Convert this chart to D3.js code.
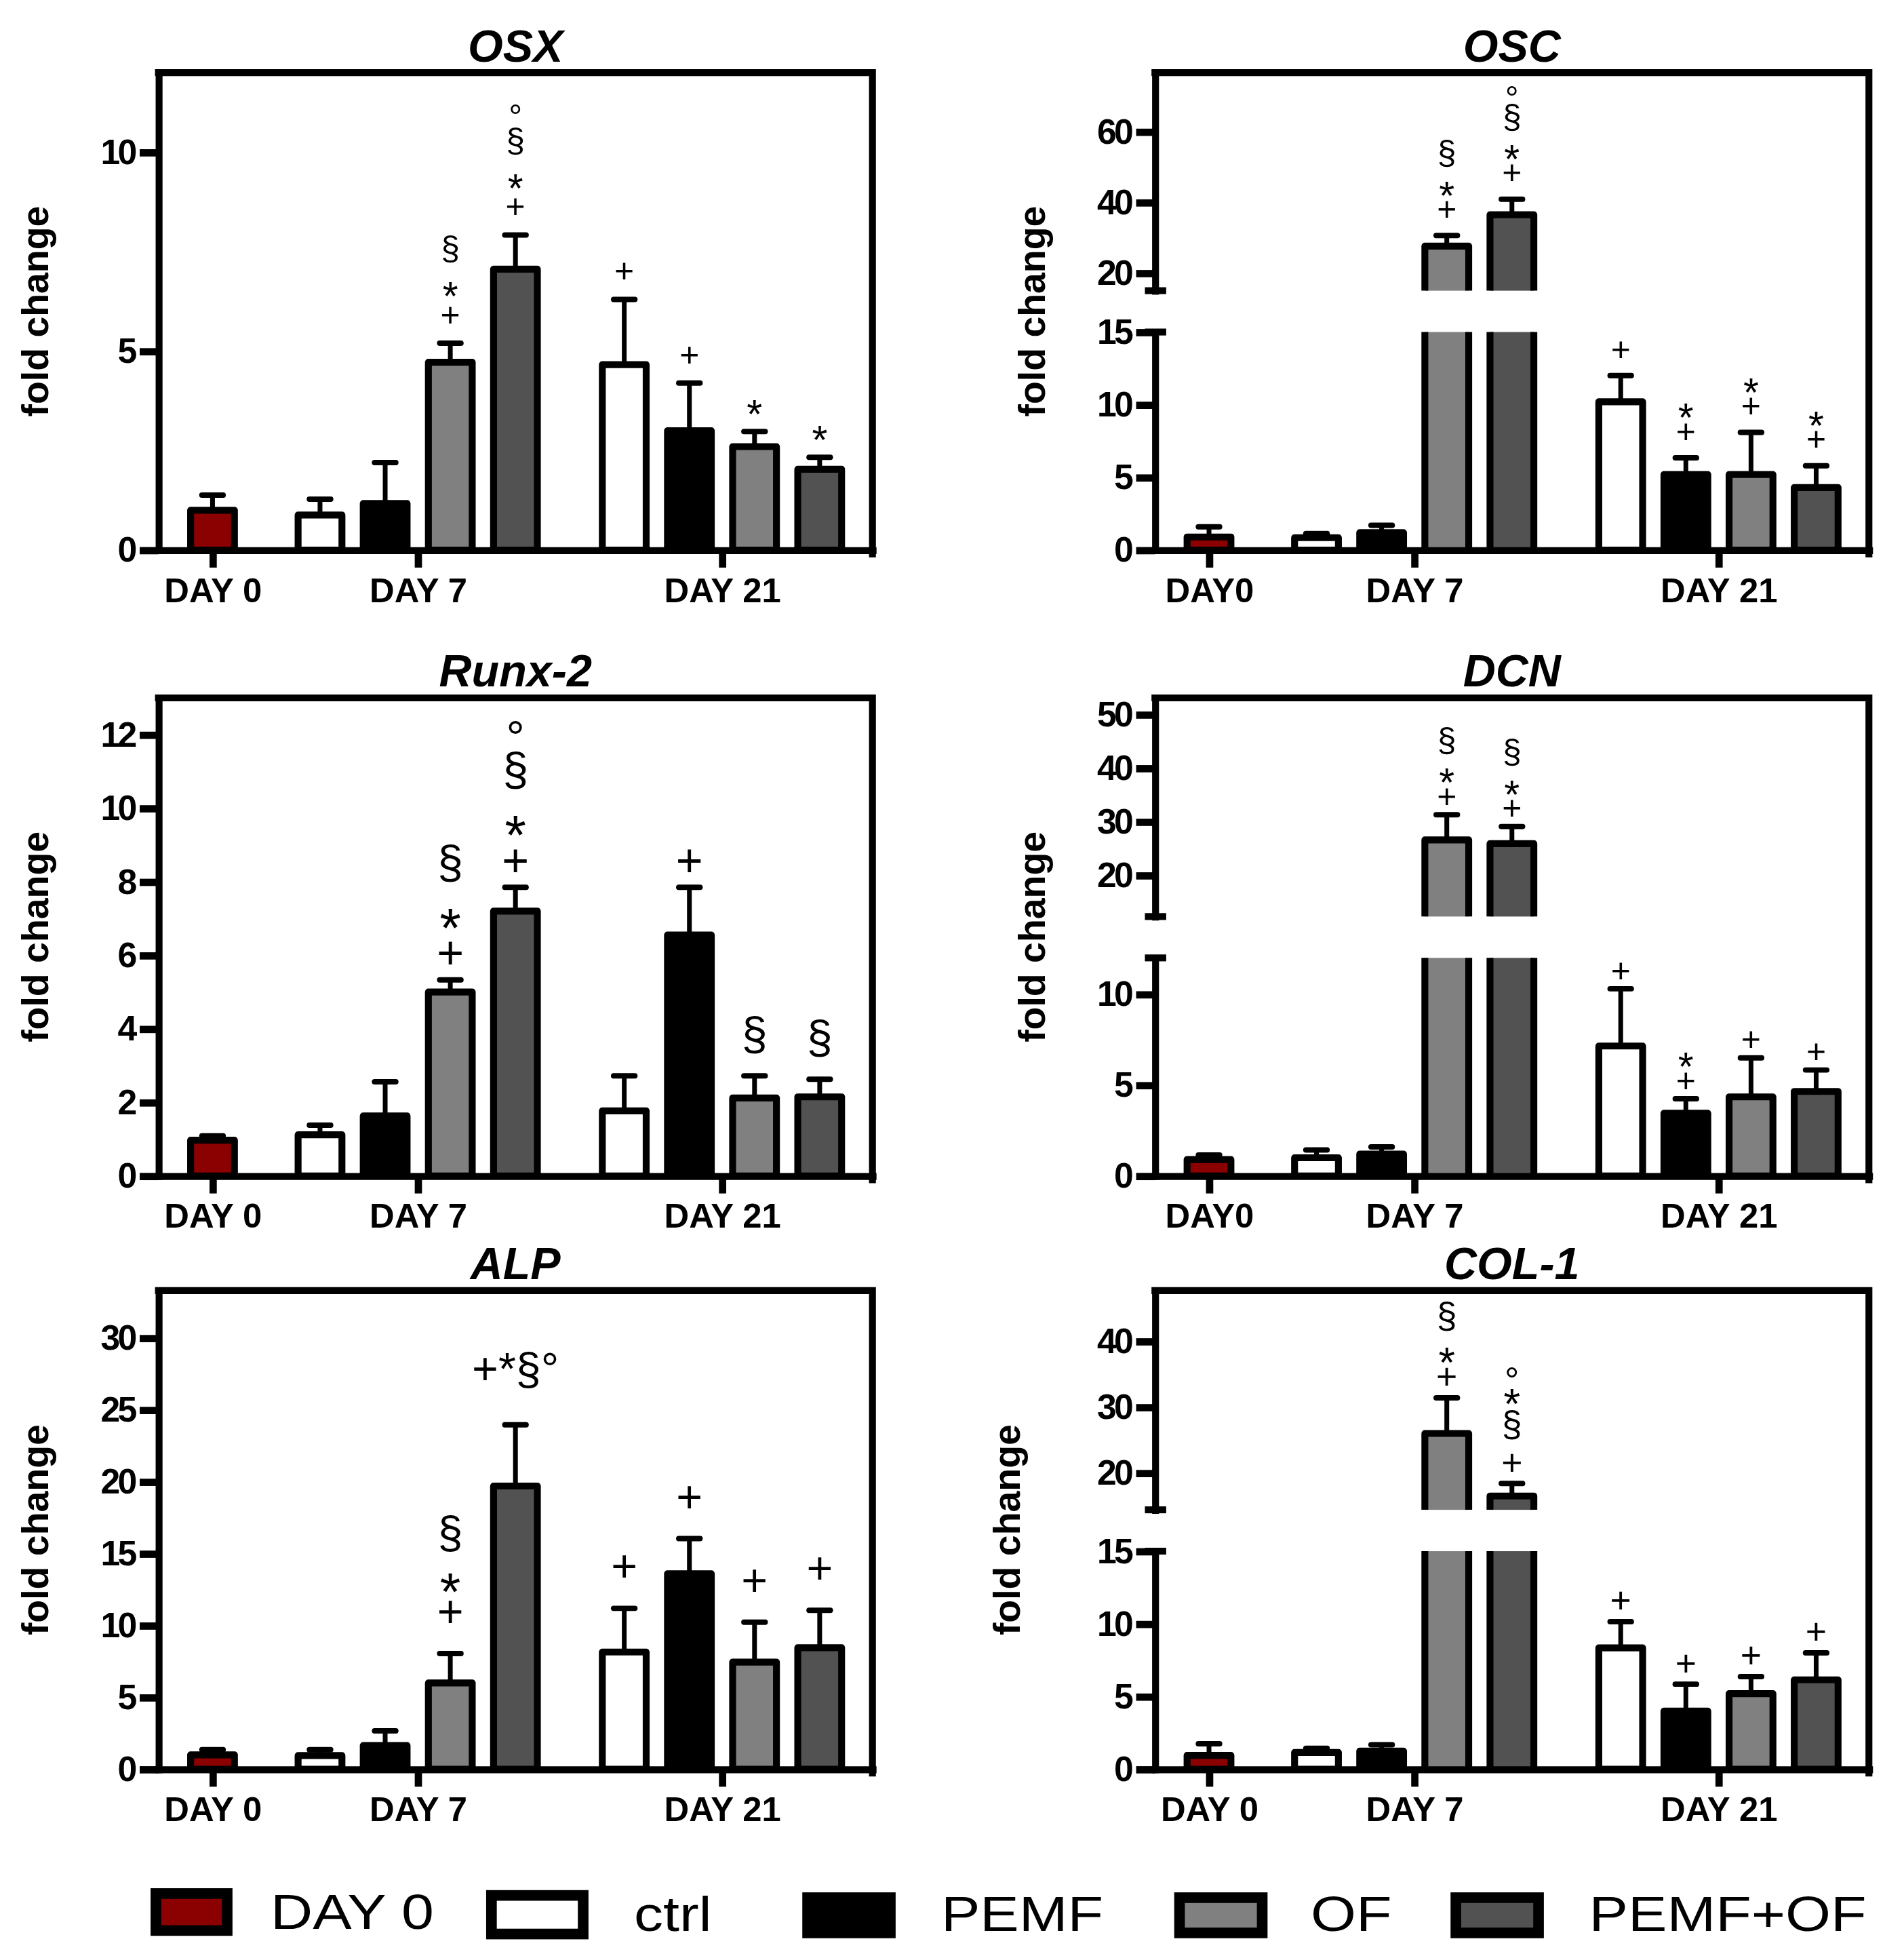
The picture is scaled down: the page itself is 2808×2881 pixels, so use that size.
<!DOCTYPE html>
<html>
<head>
<meta charset="utf-8">
<script src="https://cdn.jsdelivr.net/npm/d3@7"></script>
<style>
  body { margin: 0; background: #fff; }
  svg { display: block; }
  text { font-family: "Liberation Sans", Arial, sans-serif; }
</style>
</head>
<body>
<svg id="chart"></svg>
<script>
// bar order in every panel: DAY 0 | day 7: ctrl PEMF OF PEMF+OF | day 21: ctrl PEMF OF PEMF+OF
var seriesNames  = ["DAY 0", "ctrl", "PEMF", "OF", "PEMF+OF"];
var seriesColors = ["#8b0000", "#ffffff", "#000000", "#808080", "#525252"];
var dayLabels    = ["DAY 0", "DAY 7", "DAY 21"];
var dayLabelsB   = ["DAY0", "DAY 7", "DAY 21"];
var barDay       = [0, 1, 1, 1, 1, 2, 2, 2, 2];
var barSeries    = [0, 1, 2, 3, 4, 1, 2, 3, 4];

// fold change (mean) and SEM
var osxMean  = [1.0, 0.88, 1.17, 4.72, 7.06, 4.66, 3.0, 2.6, 2.03];
var osxSem   = [0.38, 0.40, 1.03, 0.48, 0.86, 1.64, 1.2, 0.38, 0.30];
var osxMarks = ["", "", "", "+*§", "+*§°", "+", "+", "*", "*"];
var osxTicks = [0, 5, 10];

var oscMean  = [0.9, 0.85, 1.2, 27.6, 36.5, 10.2, 5.2, 5.2, 4.3];
var oscSem   = [0.7, 0.28, 0.5, 3.0, 4.4, 1.8, 1.15, 2.9, 1.5];
var oscMarks = ["", "", "", "+*§", "+*§°", "+", "+*", "+*", "+*"];
var oscTicksLow  = [0, 5, 10, 15];
var oscTicksHigh = [20, 40, 60];

var runxMean  = [0.97, 1.12, 1.63, 5.0, 7.2, 1.77, 6.55, 2.12, 2.15];
var runxSem   = [0.12, 0.26, 0.93, 0.33, 0.65, 0.95, 1.3, 0.6, 0.48];
var runxMarks = ["", "", "", "+*§", "+*§°", "", "+", "§", "§"];
var runxTicks = [0, 2, 4, 6, 8, 10, 12];

var dcnMean  = [0.9, 1.0, 1.2, 26.6, 25.9, 7.15, 3.45, 4.35, 4.65];
var dcnSem   = [0.25, 0.43, 0.4, 4.7, 3.2, 3.15, 0.8, 2.15, 1.18];
var dcnMarks = ["", "", "", "+*§", "+*§", "+", "+*", "+", "+"];
var dcnTicksLow  = [0, 5, 10];
var dcnTicksHigh = [20, 30, 40, 50];

var alpMean  = [1.0, 0.95, 1.65, 6.0, 19.7, 8.15, 13.6, 7.45, 8.45];
var alpSem   = [0.36, 0.41, 1.02, 2.05, 4.26, 3.04, 2.44, 2.78, 2.6];
var alpMarks = ["", "", "", "+*§", ["+*§°"], "+", "+", "+", "+"];
var alpTicks = [0, 5, 10, 15, 20, 25, 30];

var colMean  = [0.95, 1.15, 1.25, 26.0, 16.5, 8.35, 4.0, 5.2, 6.15];
var colSem   = [0.8, 0.29, 0.43, 5.4, 1.9, 1.8, 1.85, 1.17, 1.85];
var colMarks = ["", "", "", "+*§", "+§*°", "+", "+", "+", "+"];
var colTicksLow  = [0, 5, 10, 15];
var colTicksHigh = [20, 30, 40];

// layout (drawn in a 1520 x 1559.5 user space, scaled to the page)
var colX0 = [126.5, 922], plotW = 570;
var rowTop = [58, 557, 1030], rowZero = [439, 938.5, 1412];
var lowH = 174, breakGap = 33;
var daySlot = [0, 1.65, 6.32];
var barW = 35;

var panels = [
  { title: "OSX", col: 0, row: 0, mean: osxMean, sem: osxSem, marks: osxMarks, days: dayLabels,
    segs: [{ dom: [0, 12], ticks: osxTicks }], mk: { fs: 27, gap: 16.5, pad: 11 }, ylab: 88 },
  { title: "OSC", col: 1, row: 0, mean: oscMean, sem: oscSem, marks: oscMarks, days: dayLabelsB,
    segs: [{ dom: [0, 15], ticks: oscTicksLow }, { dom: [15, 76.7], ticks: oscTicksHigh }],
    mk: { fs: 27, gap: 15, pad: 7 }, ylab: 88 },
  { title: "Runx-2", col: 0, row: 1, mean: runxMean, sem: runxSem, marks: runxMarks, days: dayLabels,
    segs: [{ dom: [0, 13], ticks: runxTicks }], mk: { fs: 37, gap: 13, pad: 15 }, ylab: 88 },
  { title: "DCN", col: 1, row: 1, mean: dcnMean, sem: dcnSem, marks: dcnMarks, days: dayLabelsB,
    segs: [{ dom: [0, 12], ticks: dcnTicksLow }, { dom: [12.3, 53.1], ticks: dcnTicksHigh }],
    mk: { fs: 27, gap: 8.5, pad: 7 }, ylab: 88 },
  { title: "ALP", col: 0, row: 2, mean: alpMean, sem: alpSem, marks: alpMarks, days: dayLabels,
    segs: [{ dom: [0, 33.3], ticks: alpTicks }], mk: { fs: 36, gap: 25, pad: 11 }, ylab: 88 },
  { title: "COL-1", col: 1, row: 2, mean: colMean, sem: colSem, marks: colMarks, days: dayLabels,
    segs: [{ dom: [0, 15], ticks: colTicksLow }, { dom: [14.4, 47.7], ticks: colTicksHigh }],
    mk: { fs: 29, gap: 10, pad: 8 }, ylab: 108 }
];

// glyph metrics in em: centre above baseline, visible height, size factor
var glyph = {
  "+": { c: 0.345, h: 0.47, k: 1 },
  "*": { c: 0.58, h: 0.30, k: 1.18 },
  "§": { c: 0.26, h: 0.94, k: 1 },
  "°": { c: 0.59, h: 0.28, k: 1 }
};

var svg = d3.select("#chart")
  .attr("width", 2808).attr("height", 2881)
  .attr("viewBox", "0 0 1520 1559.5")
  .attr("preserveAspectRatio", "none");

svg.append("rect").attr("width", 1520).attr("height", 1559.5).attr("fill", "#fff");

function slotOf(i) {
  return daySlot[barDay[i]] + barSeries[i] - (barDay[i] ? 1 : 0);
}

panels.forEach(function (p) {
  var x0 = colX0[p.col], x1 = x0 + plotW;
  var top = rowTop[p.row], zero = rowZero[p.row];
  var g = svg.append("g");

  var x = d3.scaleLinear().domain([-0.83, 10.13]).range([x0, x1]);
  var broken = p.segs.length > 1;
  p.segs.forEach(function (s, k) {
    var r = !broken ? [zero, top] : (k === 0 ? [zero, zero - lowH] : [zero - lowH - breakGap, top]);
    s.scale = d3.scaleLinear().domain(s.dom).range(r);
  });
  var lowMax = p.segs[0].dom[1];
  function y(v) {
    return (!broken || v <= lowMax) ? p.segs[0].scale(v) : p.segs[1].scale(v);
  }

  var bars = p.mean.map(function (m, i) {
    return { i: i, mean: m, sem: p.sem[i], cx: x(slotOf(i)), fill: seriesColors[barSeries[i]], marks: p.marks[i] };
  });

  // error bars (upper only), under the bars
  var eb = g.append("g").attr("stroke", "#000").attr("stroke-linecap", "round");
  bars.forEach(function (b) {
    var yt = y(b.mean + b.sem);
    eb.append("line").attr("x1", b.cx).attr("x2", b.cx).attr("y1", y(b.mean)).attr("y2", yt)
      .attr("stroke-width", 3.8);
    eb.append("line").attr("x1", b.cx - 8.5).attr("x2", b.cx + 8.5).attr("y1", yt).attr("y2", yt)
      .attr("stroke-width", 4.3);
  });

  // bars
  var bg = g.append("g");
  bars.forEach(function (b) {
    var l = b.cx - barW / 2, r = b.cx + barW / 2, yv = y(b.mean);
    if (!broken || b.mean <= lowMax) {
      bg.append("rect").attr("x", l).attr("y", yv).attr("width", barW).attr("height", zero - yv)
        .attr("fill", b.fill).attr("stroke", "#000").attr("stroke-width", 5.5).attr("stroke-linejoin", "round");
    } else {
      var lt = zero - lowH, ub = zero - lowH - breakGap;
      bg.append("rect").attr("x", l).attr("y", lt).attr("width", barW).attr("height", zero - lt).attr("fill", b.fill);
      bg.append("rect").attr("x", l).attr("y", yv).attr("width", barW).attr("height", ub - yv).attr("fill", b.fill);
      bg.append("path")
        .attr("d", "M" + l + "," + zero + "V" + lt + "M" + r + "," + lt + "V" + zero +
                   "M" + l + "," + ub + "V" + yv + "H" + r + "V" + ub)
        .attr("fill", "none").attr("stroke", "#000").attr("stroke-width", 5.5).attr("stroke-linejoin", "round");
    }
  });

  // significance marks, stacked upwards from the error bar (one text per stack)
  var mk = p.mk;
  bars.forEach(function (b) {
    if (!b.marks || !b.marks.length) return;
    var yt = y(b.mean + b.sem);
    var t = g.append("text").attr("text-anchor", "middle").attr("font-size", mk.fs);
    if (Array.isArray(b.marks)) {
      var cy = yt - mk.gap - glyph["§"].h * mk.fs / 2;
      t.attr("x", b.cx).attr("y", cy + glyph["§"].c * mk.fs).text(b.marks[0]);
      return;
    }
    var prev = null, c = 0;
    Array.from(b.marks).forEach(function (ch) {
      var gm = glyph[ch], fs = mk.fs * gm.k;
      if (prev === null) c = yt - mk.gap - gm.h * fs / 2;
      else c -= glyph[prev].h * mk.fs * glyph[prev].k / 2 + gm.h * fs / 2 + mk.pad;
      t.append("tspan").attr("x", b.cx).attr("y", c + gm.c * fs).attr("font-size", fs).text(ch);
      prev = ch;
    });
  });

  // frame (top + right)
  g.append("path").attr("d", "M" + x0 + "," + top + "H" + x1 + "V" + (zero + 3))
    .attr("fill", "none").attr("stroke", "#000").attr("stroke-width", 5.5).attr("stroke-linecap", "square");

  // x axis
  var dayCenters = [0, 1, 2].map(function (d) { return daySlot[d] + (d ? 1.5 : 0); });
  var xa = g.append("g").attr("transform", "translate(0," + zero + ")")
    .call(d3.axisBottom(x).tickValues(dayCenters)
      .tickFormat(function (d, i) { return p.days[i]; })
      .tickSize(14).tickSizeOuter(0).tickPadding(8));
  styleAxis(xa, 27.5, 0);

  // y axis, one per segment
  p.segs.forEach(function (s) {
    var ya = g.append("g").attr("transform", "translate(" + x0 + ",0)")
      .call(d3.axisLeft(s.scale).tickValues(s.ticks).tickFormat(d3.format("d"))
        .tickSize(15).tickSizeOuter(0).tickPadding(4));
    styleAxis(ya, 28, -2);
  });
  if (broken) {
    [zero - lowH, zero - lowH - breakGap].forEach(function (yy) {
      g.append("line").attr("x1", x0 - 8).attr("x2", x0 + 9).attr("y1", yy).attr("y2", yy)
        .attr("stroke", "#000").attr("stroke-width", 5.5);
    });
  }

  // titles
  g.append("text").attr("x", x0 + plotW / 2).attr("y", top - 9)
    .attr("text-anchor", "middle").attr("font-size", 36)
    .attr("font-weight", "bold").attr("font-style", "italic").text(p.title);
  g.append("text")
    .attr("transform", "translate(" + (x0 - p.ylab) + "," + ((top + zero) / 2) + ") rotate(-90)")
    .attr("text-anchor", "middle").attr("font-size", 30).attr("font-weight", "bold")
    .text("fold change");
});

function styleAxis(a, fs, ls) {
  a.attr("font-size", null).attr("font-family", null);
  a.select(".domain").attr("stroke-width", 5.5).attr("stroke-linecap", "square");
  a.selectAll(".tick line").attr("stroke-width", 5.8);
  a.selectAll(".tick text").attr("font-size", fs).attr("font-weight", "bold")
    .attr("letter-spacing", ls).attr("fill", "#000");
}

// legend
var legX = [120.2, 388.1, 640.5, 937.4, 1158];
var legW = [65.4, 81.7, 74.5, 74.5, 74.5];
var legY = [1507, 1508.5, 1510.3, 1510.3, 1510.3];
var legH = [38, 39.3, 36.6, 36.6, 36.6];
var legTextX = [216, 506.1, 751.3, 1046.4, 1268.6];
var lg = svg.append("g");
seriesNames.forEach(function (name, i) {
  var bw = 8.5;
  lg.append("rect")
    .attr("x", legX[i] + bw / 2).attr("y", legY[i] + bw / 2)
    .attr("width", legW[i] - bw).attr("height", legH[i] - bw)
    .attr("fill", seriesColors[i]).attr("stroke", "#000").attr("stroke-width", bw);
  lg.append("text")
    .attr("transform", "translate(" + legTextX[i] + "," + (i ? 1541 : 1539.5) + ") scale(1.18,1)")
    .attr("font-size", 39.5).text(name);
});
</script>
</body>
</html>
